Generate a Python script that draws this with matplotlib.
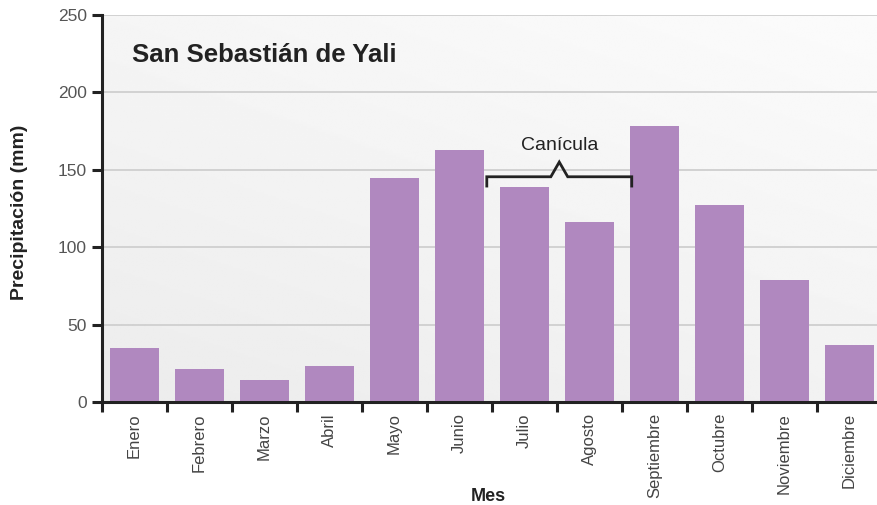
import numpy as np
import matplotlib
matplotlib.use("Agg")
import matplotlib.pyplot as plt

# Datos de precipitación mensual
meses = ["Enero", "Febrero", "Marzo", "Abril", "Mayo", "Junio", "Julio",
         "Agosto", "Septiembre", "Octubre", "Noviembre", "Diciembre"]
precip = [35, 21, 14, 23, 145, 163, 139, 116, 178, 127, 79, 37]
yticks = [0, 50, 100, 150, 200, 250]

titulo = "San Sebastián de Yali"
canicula = "Canícula"

plt.rcParams['font.family'] = ['Liberation Sans', 'DejaVu Sans']

fig = plt.figure(figsize=(8.77, 5.05), dpi=100)
# el eje sigue un poco más allá del borde derecho, como en el original
ax = fig.add_axes([102 / 877, 103 / 505, 780 / 877, 387 / 505])

x = np.arange(len(meses))

# Fondo con degradado diagonal
gy, gx = np.mgrid[0:1:200j, 0:1:200j]
grad = 0.925 + 0.06 * (0.6 * gy + 0.4 * gx)
ax.imshow(grad, extent=[-0.5, len(meses) - 0.5, 250, 0], cmap="gray",
          vmin=0, vmax=1, aspect="auto", zorder=0, interpolation="bilinear")
ax.set_xlim(-0.5, len(meses) - 0.5)
ax.set_ylim(0, 250)

for v in yticks[1:]:
    ax.axhline(v, color="#cfcfcf", lw=1.3, zorder=1)

ax.bar(x, precip, width=0.74, color="#b088bf", zorder=2)

# Ejes
for s in ["top", "right"]:
    ax.spines[s].set_visible(False)
for s in ["left", "bottom"]:
    ax.spines[s].set_color("#222222")
    ax.spines[s].set_linewidth(2.2)
    ax.spines[s].set_zorder(3)

ax.set_yticks(yticks)
ax.tick_params(axis="y", length=7, width=2.2, color="#222222",
               labelsize=12.5, labelcolor="#555555", pad=4)
ax.set_xticks(x)
ax.set_xticklabels(meses, rotation=90, fontsize=12, color="#444444")
ax.tick_params(axis="x", length=0, pad=8)
ax.set_xticks(np.arange(-0.5, len(meses), 1), minor=True)
ax.tick_params(axis="x", which="minor", length=7, width=2.2, color="#222222")

ax.set_ylabel("Precipitación (mm)", fontsize=14, fontweight="bold",
              color="#222222")
ax.yaxis.set_label_coords(-0.095, 0.49)
ax.set_xlabel("Mes", fontsize=13, fontweight="bold", color="#222222")
ax.xaxis.set_label_coords(0.495, -0.222)

ax.text(30 / 780, 224, titulo, fontsize=18.5, fontweight="bold", color="#222222",
        va="center", ha="left", transform=ax.get_yaxis_transform())

# Llave de la canícula sobre julio y agosto
i0 = meses.index("Julio")
i1 = meses.index("Agosto")
xl, xr = i0 - 0.58, i1 + 0.65
xm = (xl + xr) / 2
yb, ybar, ypk = 139.5, 145.5, 155
bx = [xl, xl, xm - 0.13, xm, xm + 0.13, xr, xr]
by = [yb, ybar, ybar, ypk, ybar, ybar, yb]
ax.plot(bx, by, color="#222222", lw=2, zorder=4, solid_joinstyle="miter")
ax.text(xm, 166, canicula, fontsize=14, color="#222222", ha="center", va="center")

fig.savefig("out.png", dpi=100)
